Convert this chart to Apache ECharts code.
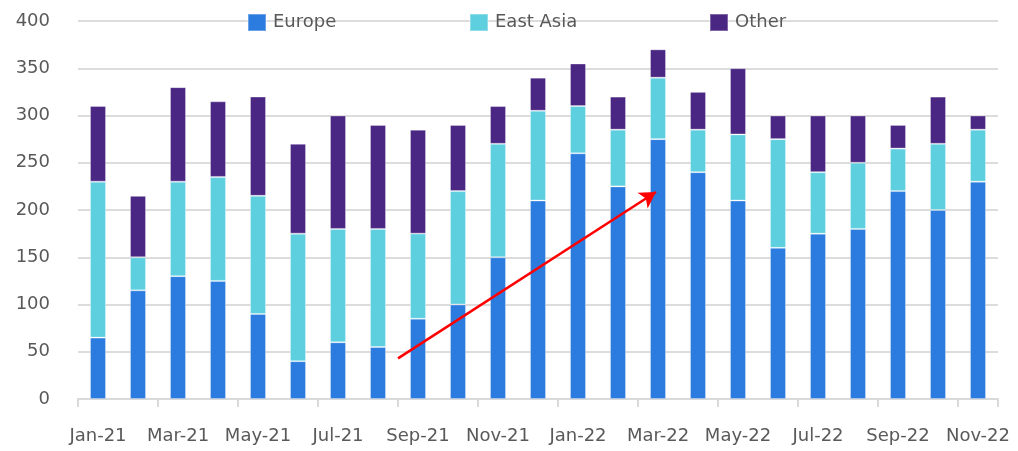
<!DOCTYPE html>
<html><head><meta charset="utf-8">
<script src="https://cdn.jsdelivr.net/npm/echarts@6/dist/echarts.min.js"></script>
<style>html,body{margin:0;padding:0;background:#fff}#c{width:1018px;height:451px}</style>
</head><body><div id="c"></div>
<script>
const categories = ['Jan-21','Feb-21','Mar-21','Apr-21','May-21','Jun-21','Jul-21','Aug-21','Sep-21','Oct-21','Nov-21','Dec-21',
  'Jan-22','Feb-22','Mar-22','Apr-22','May-22','Jun-22','Jul-22','Aug-22','Sep-22','Oct-22','Nov-22'];
const europe   = [65,115,130,125,90,40,60,55,85,100,150,210,260,225,275,240,210,160,175,180,220,200,230];
const eastAsia = [165,35,100,110,125,135,120,125,90,120,120,95,50,60,65,45,70,115,65,70,45,70,55];
const other    = [80,65,100,80,105,95,120,110,110,70,40,35,45,35,30,40,70,25,60,50,25,50,15];
const yTicks = [0,50,100,150,200,250,300,350,400];
// arrow annotation: [category position, value]
const arrowStart = [7.5, 43];
const arrowEnd = [13.95, 219];

const FONT = 'DejaVu Sans';
const TXT = '#595959';
const chart = echarts.init(document.getElementById('c'), null, {renderer:'canvas'});
const colors = {Europe:'#2B7CDE','East Asia':'#5ECFDF',Other:'#4A2783'};
function legend(name,left){
  return {data:[name],left:left,top:8,itemWidth:18,itemHeight:17,itemGap:0,
    textStyle:{fontFamily:FONT,fontSize:18,color:TXT,padding:[0,0,0,2]},icon:'rect'};
}
const border = {borderColor:'rgba(255,255,255,0.3)',borderWidth:1};
chart.setOption({
  animation:false,
  grid:{left:78,right:20,top:21,bottom:52},
  legend:[legend('Europe',242),legend('East Asia',464),legend('Other',704)],
  xAxis:[{type:'category',data:categories,boundaryGap:true,
    axisLine:{lineStyle:{color:'#D9D9D9',width:2}},
    axisTick:{show:true,interval:1,length:8,lineStyle:{color:'#D9D9D9',width:2}},
    axisLabel:{interval:1,margin:28,fontFamily:FONT,fontSize:18,color:TXT}},
   {type:'value',min:-0.5,max:categories.length-0.5,show:false}],
  yAxis:{type:'value',min:yTicks[0],max:yTicks[yTicks.length-1],interval:50,
    axisLine:{show:false},axisTick:{show:false},
    splitLine:{lineStyle:{color:'#DCDCDC',width:2}},
    axisLabel:{margin:28,fontFamily:FONT,fontSize:18,color:TXT}},
  series:[
    {name:'Europe',type:'bar',stack:'s',data:europe,barWidth:16,itemStyle:Object.assign({color:colors.Europe},border)},
    {name:'East Asia',type:'bar',stack:'s',data:eastAsia,barWidth:16,itemStyle:Object.assign({color:colors['East Asia']},border)},
    {name:'Other',type:'bar',stack:'s',data:other,barWidth:16,itemStyle:Object.assign({color:colors.Other},border)},
    {name:'arrow',type:'line',xAxisIndex:1,data:[],silent:true,
      markLine:{silent:true,symbol:['none','arrow'],symbolSize:[14,16],
        lineStyle:{color:'#FF0000',width:2.5,type:'solid'},label:{show:false},
        data:[[{coord:arrowStart},{coord:arrowEnd}]]}}
  ]
});
</script></body></html>
